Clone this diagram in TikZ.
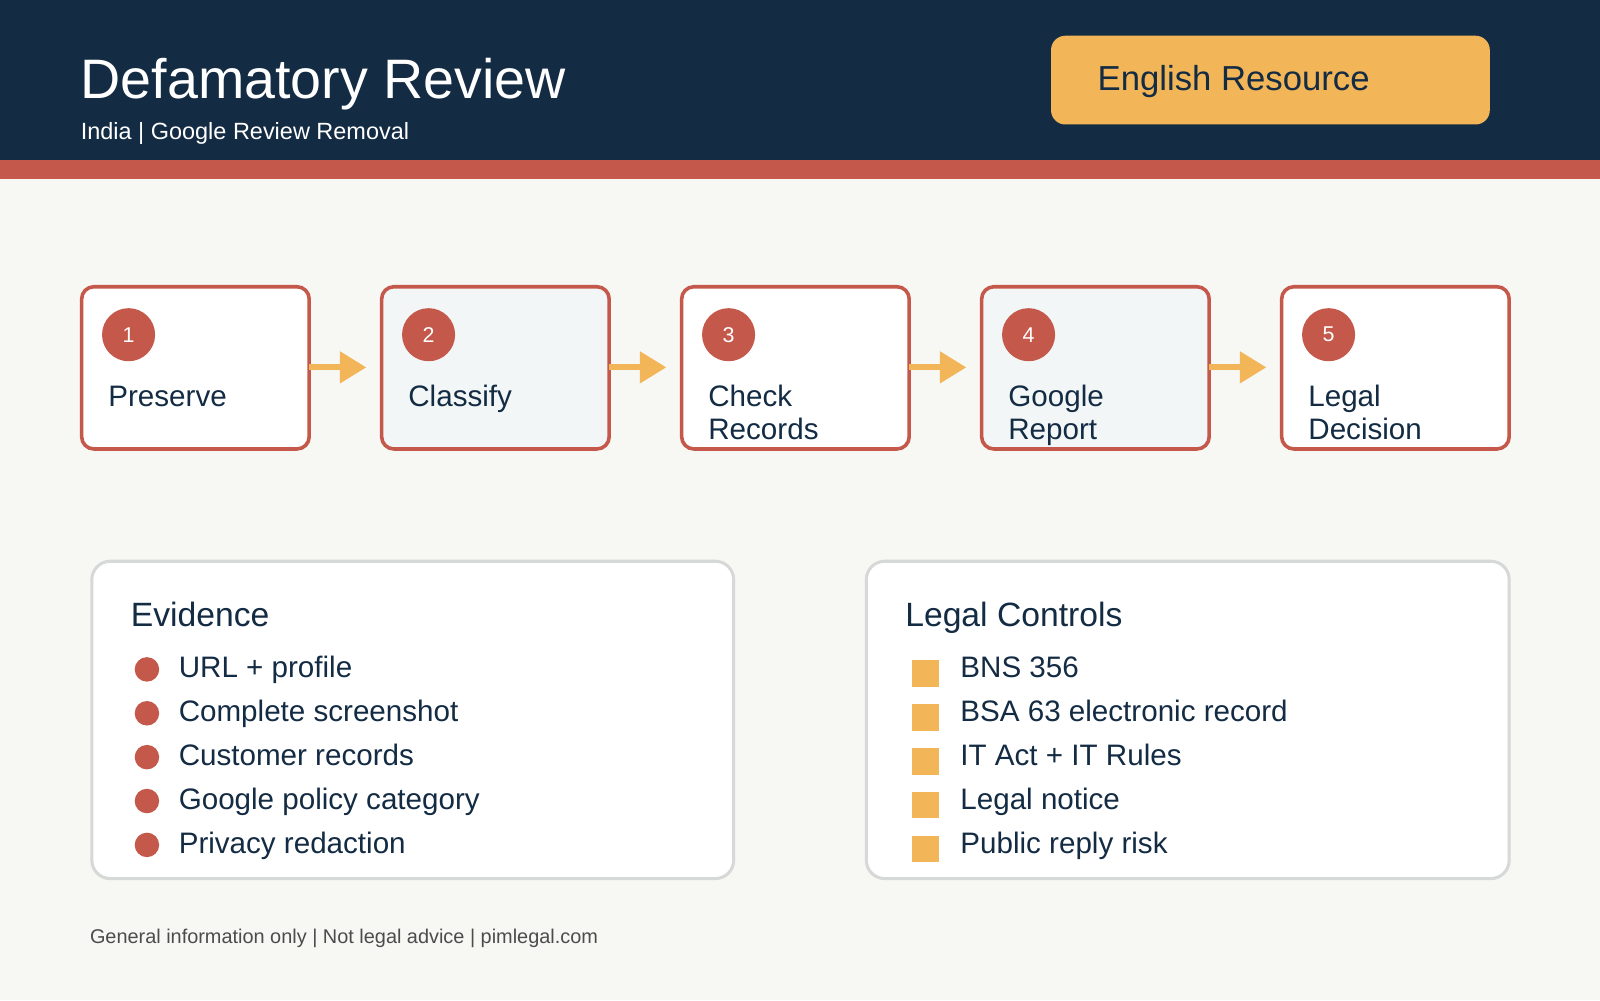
\documentclass[tikz,border=0pt]{standalone}
\usepackage{fontspec}
\setmainfont{Liberation Sans}
\usetikzlibrary{arrows.meta}
\definecolor{navy}{HTML}{132B43}
\definecolor{rust}{HTML}{C4584A}
\definecolor{gold}{HTML}{F2B557}
\definecolor{bg}{HTML}{F7F7F3}
\definecolor{pale}{HTML}{F2F6F6}
\definecolor{panelb}{HTML}{D6D9D8}
\newcommand{\fs}[2][1.2]{\fontsize{#2}{#1\dimexpr #2pt\relax}\selectfont}
\tikzset{
 stepbox/.style={draw=rust,line width=3.5pt,rounded corners=12pt},
 num/.style={circle,fill=rust,minimum size=52pt,inner sep=0pt,text=white,font=\fs{21}},
 lbl/.style={anchor=north west,inner sep=0pt,text=navy,font=\fontsize{29}{32}\selectfont,align=left},
 flow/.style={draw=gold,line width=6pt,-{Triangle[length=26pt,width=30pt]}},
 panel/.style={draw=panelb,fill=white,line width=3pt,rounded corners=18pt},
 item/.style={anchor=base west,inner sep=0pt,text=navy,font=\fs{29}},
 dot/.style={circle,fill=rust,minimum size=24pt,inner sep=0pt},
 sq/.style={fill=gold,minimum size=26pt,inner sep=0pt},
}
\begin{document}
\begin{tikzpicture}[x=1pt,y=-1pt]
\useasboundingbox (0,0) rectangle (1568,980);
\fill[bg] (0,0) rectangle (1568,980);
\fill[navy] (0,0) rectangle (1568,157);
\fill[rust] (0,157) rectangle (1568,175);
\node[anchor=base west,inner sep=0pt,text=white,font=\fs{54.5}] (title) at (79,97) {Defamatory Review};
\node[anchor=base west,inner sep=0pt,text=white,font=\fs{23}] (sub) at (79,137) {India | Google Review Removal};
\fill[gold,rounded corners=14pt] (1030,35) rectangle (1460,122);
\node[text=navy,font=\fs{34}] (res) at (1209,80) {English Resource};
% steps
\foreach \i/\x/\f/\t in {1/80/white/Preserve,2/374/pale/Classify,3/668/white/Check\\Records,4/962/pale/Google\\Report,5/1256/white/Legal\\Decision}{
  \draw[stepbox,fill=\f] (\x,281) rectangle ++(223,159);
  \node[num] (n\i) at (\x+46,328) {\i};
  \node[lbl] (l\i) at (\x+26,376) {\strut\t};
}
\foreach \x in {303,597,891,1185}{
  \coordinate (a\x) at (\x,360); \coordinate (b\x) at (\x+56,360);
  \draw[flow] (a\x) -- (b\x);
}
% panels
\draw[panel] (90,550) rectangle (719,861);
\draw[panel] (849,550) rectangle (1479,861);
\node[item,font=\fs{33}] (ev) at (128,614) {Evidence};
\node[item,font=\fs{33}] (lc) at (887,614) {Legal Controls};
\foreach \t [count=\k] in {URL + profile,Complete screenshot,Customer records,Google policy category,Privacy redaction}{
  \node[dot] (d\k) at (144,656+43*\k-43) {};
  \node[item] (e\k) at (175,664+43*\k-43) {\t};
}
\foreach \t [count=\k] in {BNS 356,BSA 63 electronic record,IT Act + IT Rules,Legal notice,Public reply risk}{
  \node[sq] (s\k) at (907,660+43*\k-43) {};
  \node[item] (c\k) at (941,664+43*\k-43) {\t};
}
\node[anchor=base west,inner sep=0pt,text=black!70,font=\fs{19.5}] (foot) at (88,925) {General information only | Not legal advice | pimlegal.com};
\end{tikzpicture}
\end{document}
